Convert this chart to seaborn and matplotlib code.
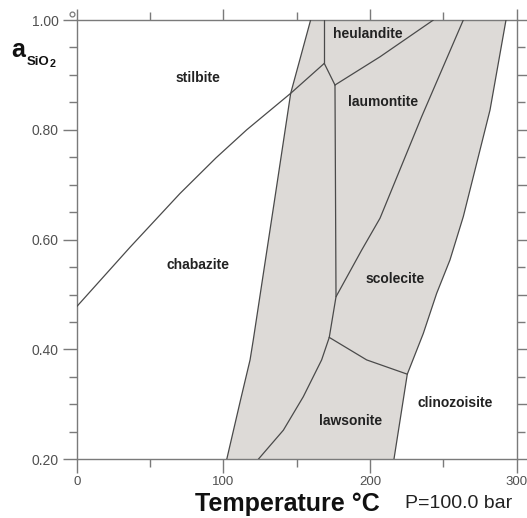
import matplotlib
matplotlib.use("Agg")
import matplotlib.pyplot as plt
from matplotlib.ticker import MultipleLocator, FixedLocator, FuncFormatter
import seaborn as sns
import pandas as pd

# Phase boundaries: temperature (°C) and silica activity
stilbite_chabazite_T = [0, 36.3, 70.4, 95.0, 115.9, 145.9, 168.8]
stilbite_chabazite_a = [0.478, 0.586, 0.684, 0.749, 0.800, 0.8665, 0.921]

left_edge_T = [102.3, 111.7, 118.2, 120.4, 126.6, 134.9, 145.9, 159.5]
left_edge_a = [0.200, 0.308, 0.381, 0.4175, 0.5265, 0.672, 0.8665, 1.000]

heulandite_left_T = [168.8, 168.8]
heulandite_left_a = [0.921, 1.000]

heul_junction_T = [168.8, 176.1]
heul_junction_a = [0.921, 0.8816]

heulandite_laumontite_T = [176.1, 206.8, 243.2]
heulandite_laumontite_a = [0.8816, 0.933, 1.000]

laumontite_left_T = [176.1, 176.8, 172.2]
laumontite_left_a = [0.8816, 0.496, 0.422]

laumontite_scolecite_T = [176.8, 194.3, 206.8, 235.2, 263.6]
laumontite_scolecite_a = [0.496, 0.581, 0.639, 0.824, 1.000]

right_edge_T = [216.3, 225.4, 236.3, 245.4, 254.5, 263.6, 281.8, 292.7]
right_edge_a = [0.200, 0.355, 0.429, 0.502, 0.563, 0.642, 0.836, 1.000]

scolecite_lawsonite_T = [172.2, 197.7, 225.4]
scolecite_lawsonite_a = [0.422, 0.381, 0.355]

lawsonite_left_T = [123.8, 140.9, 154.5, 167.0, 172.2]
lawsonite_left_a = [0.200, 0.253, 0.314, 0.381, 0.422]

mineral_names = ["stilbite", "heulandite", "laumontite", "chabazite",
                 "scolecite", "lawsonite", "clinozoisite"]
mineral_T = [82.4, 198.3, 209.0, 82.4, 217.4, 186.9, 258.0]
mineral_a = [0.894, 0.9745, 0.851, 0.554, 0.5275, 0.270, 0.3034]

x_major = [0, 100, 200, 300]
y_labels = [0.20, 0.40, 0.60, 0.80, 1.00]

sns.set_theme(style="white")
plt.rcParams["font.family"] = ["Liberation Sans", "DejaVu Sans"]

W, H = 527, 518
fig = plt.figure(figsize=(W / 100, H / 100), dpi=100)
ax = fig.add_axes([76.7 / W, 1 - 459.3 / H, 440 / W, 439.3 / H])

line_col = "#4a4a4a"
fill_col = "#dddad7"
axis_col = "#7a7a7a"

# shaded stability band
band_T = left_edge_T + right_edge_T[::-1]
band_a = left_edge_a + right_edge_a[::-1]
ax.fill(band_T, band_a, color=fill_col, lw=0, zorder=1)

boundaries = [
    (stilbite_chabazite_T, stilbite_chabazite_a),
    (left_edge_T, left_edge_a),
    (heulandite_left_T, heulandite_left_a),
    (heul_junction_T, heul_junction_a),
    (heulandite_laumontite_T, heulandite_laumontite_a),
    (laumontite_left_T, laumontite_left_a),
    (laumontite_scolecite_T, laumontite_scolecite_a),
    (right_edge_T, right_edge_a),
    (scolecite_lawsonite_T, scolecite_lawsonite_a),
    (lawsonite_left_T, lawsonite_left_a),
]
for T, a in boundaries:
    df = pd.DataFrame({"T": T, "a": a})
    sns.lineplot(data=df, x="T", y="a", sort=False, estimator=None,
                 color=line_col, lw=0.9, ax=ax, zorder=3)

for name, T, a in zip(mineral_names, mineral_T, mineral_a):
    ax.text(T, a, name, ha="center", va="center", fontsize=10,
            fontweight="bold", color="#222222", zorder=4)

ax.set_xlim(0, 300)
ax.set_ylim(0.2, 1.0)
ax.set_xlabel("")
ax.set_ylabel("")

for s in ax.spines.values():
    s.set_color(axis_col)
    s.set_linewidth(1.0)
    s.set_visible(True)

ax.xaxis.set_major_locator(FixedLocator(x_major))
ax.xaxis.set_minor_locator(MultipleLocator(50))
ax.yaxis.set_major_locator(FixedLocator(y_labels))
ax.yaxis.set_minor_locator(MultipleLocator(0.05))
ax.yaxis.set_major_formatter(FuncFormatter(lambda v, p: f"{v:.2f}"))
ax.xaxis.set_major_formatter(FuncFormatter(lambda v, p: f"{v:.0f}"))

ax.tick_params(axis="both", which="major", direction="out", length=10,
               width=1, color=axis_col, labelcolor="#505050", labelsize=9.5,
               bottom=True, left=True, top=False, right=False)
ax.tick_params(axis="x", which="major", pad=2)
ax.tick_params(axis="y", which="major", pad=3, labelsize=10)
ax.tick_params(axis="both", which="minor", direction="out", length=5.5,
               width=1, color=axis_col, bottom=True, left=True,
               top=False, right=False)

# tick marks along the top and right frame
top = ax.secondary_xaxis("top")
top.xaxis.set_major_locator(FixedLocator(x_major))
top.xaxis.set_minor_locator(MultipleLocator(50))
top.tick_params(which="major", direction="out", length=8, width=1,
                color=axis_col, labeltop=False)
top.tick_params(which="minor", direction="out", length=6, width=1,
                color=axis_col)
top.spines["top"].set_visible(False)

right = ax.secondary_yaxis("right")
right.yaxis.set_major_locator(MultipleLocator(0.1))
right.yaxis.set_minor_locator(MultipleLocator(0.05))
right.tick_params(which="major", direction="out", length=10, width=1,
                  color=axis_col, labelright=False)
right.tick_params(which="minor", direction="out", length=6, width=1,
                  color=axis_col)
right.spines["right"].set_visible(False)

ax.plot([-3.4], [1.011], marker="o", ms=3.5, mfc="white", mec=axis_col,
        mew=0.9, clip_on=False, zorder=5)

# axis titles
fig.text(11 / W, 1 - 56.7 / H, "a", fontsize=18, fontweight="bold",
         color="#111111", ha="left", va="baseline")
fig.text(26.5 / W, 1 - 65 / H, "SiO", fontsize=9.5, fontweight="bold",
         color="#111111", ha="left", va="baseline")
fig.text(50 / W, 1 - 66.7 / H, "2", fontsize=7.7, fontweight="bold",
         color="#111111", ha="left", va="baseline")

fig.text(195 / W, 1 - 511 / H, "Temperature °C", fontsize=18,
         fontweight="bold", color="#111111", ha="left", va="baseline")
fig.text(405 / W, 1 - 508 / H, "P=100.0 bar", fontsize=14,
         color="#222222", ha="left", va="baseline")

fig.savefig("out.png", dpi=100)
